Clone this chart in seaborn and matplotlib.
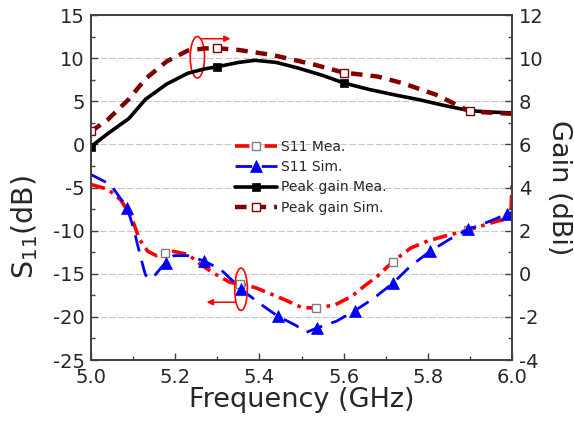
import matplotlib
matplotlib.use("Agg")
import matplotlib.pyplot as plt
from matplotlib.patches import Ellipse
import seaborn as sns

# ---------------- data ----------------
gain_mea_f = [5.0, 5.04, 5.09, 5.13, 5.18, 5.23, 5.27, 5.30, 5.35, 5.39, 5.44, 5.49,
              5.55, 5.60, 5.66, 5.72, 5.78, 5.84, 5.90, 5.95, 6.0]
gain_mea_v = [5.9, 6.5, 7.2, 8.1, 8.8, 9.3, 9.5, 9.6, 9.8, 9.9, 9.8, 9.55,
              9.2, 8.85, 8.55, 8.3, 8.07, 7.8, 7.56, 7.5, 7.46]
gain_mea_mk = [0, 7, 13, 18]

gain_sim_f = [5.0, 5.04, 5.09, 5.13, 5.18, 5.23, 5.27, 5.30, 5.35, 5.43, 5.53, 5.60,
              5.68, 5.74, 5.82, 5.90, 5.95, 6.0]
gain_sim_v = [6.6, 7.15, 8.1, 9.05, 9.85, 10.35, 10.45, 10.46, 10.38, 10.15, 9.7, 9.33,
              9.15, 8.84, 8.3, 7.53, 7.47, 7.42]
gain_sim_mk = [0, 7, 11, 15]

s11_mea_f = [5.0, 5.04, 5.07, 5.095, 5.115, 5.135, 5.155, 5.175, 5.195, 5.23, 5.26, 5.29,
             5.33, 5.355, 5.39, 5.455, 5.50, 5.535, 5.58, 5.62, 5.65, 5.68, 5.717, 5.76,
             5.80, 5.85, 5.896, 5.95, 5.997, 6.0]
s11_mea_v = [-4.65, -5.2, -6.4, -8.3, -11.0, -12.4, -12.9, -12.65, -12.4, -12.75, -13.9, -14.9,
             -16.0, -16.2, -16.6, -17.9, -18.9, -19.0, -18.6, -17.6, -16.4, -15.3, -13.6, -12.0,
             -11.2, -10.5, -9.95, -9.1, -8.5, -4.7]
s11_mea_mk = [7, 13, 17, 22, 26]

s11_sim_f = [5.0, 5.046, 5.078, 5.086, 5.102, 5.117, 5.129, 5.137, 5.153, 5.177, 5.197, 5.229,
             5.268, 5.308, 5.336, 5.356, 5.408, 5.443, 5.487, 5.511, 5.536, 5.583, 5.626, 5.67,
             5.717, 5.757, 5.805, 5.852, 5.896, 5.948, 5.987, 6.0]
s11_sim_v = [-3.5, -4.65, -6.8, -7.35, -9.9, -12.9, -15.1, -15.6, -15.1, -13.7, -12.9, -12.9,
             -13.5, -14.5, -15.8, -16.8, -18.7, -19.9, -21.0, -21.8, -21.3, -20.5, -19.3, -17.9,
             -16.1, -14.2, -12.4, -11.0, -9.86, -8.9, -8.1, -7.9]
s11_sim_mk = [3, 9, 12, 15, 17, 20, 22, 24, 26, 28, 30]

x_ticks = [5.0, 5.2, 5.4, 5.6, 5.8, 6.0]
left_ticks = [-25, -20, -15, -10, -5, 0, 5, 10, 15]
right_ticks = [-4, -2, 0, 2, 4, 6, 8, 10, 12]

# ---------------- style ----------------
sns.set_style("ticks")
plt.rcParams["font.family"] = ["DejaVu Sans"]
plt.rcParams["xtick.direction"] = "in"
plt.rcParams["ytick.direction"] = "in"

fig = plt.figure(figsize=(5.74, 4.33), dpi=100)
ax = fig.add_axes([91 / 574, 1 - 360 / 433, (512 - 91) / 574, (360 - 15) / 433])
ax2 = ax.twinx()

sns.lineplot(x=s11_mea_f, y=s11_mea_v, ax=ax, sort=False, estimator=None,
             color="#ff0000", linestyle=(0, (4, 1.6, 1, 1.6)), linewidth=2.6,
             marker="s", markevery=s11_mea_mk, markersize=6, markerfacecolor="white",
             markeredgecolor="#808080", markeredgewidth=1.0, label="S11 Mea.")
sns.lineplot(x=s11_sim_f, y=s11_sim_v, ax=ax, sort=False, estimator=None,
             color="#0000ff", linestyle=(0, (6, 3.5)), linewidth=2.0,
             marker="^", markevery=s11_sim_mk, markersize=8, markerfacecolor="#0000ff",
             markeredgecolor="#0000ff", markeredgewidth=0.5, label="S11 Sim.")
sns.lineplot(x=gain_mea_f, y=gain_mea_v, ax=ax2, sort=False, estimator=None,
             color="black", linestyle="-", linewidth=2.6,
             marker="s", markevery=gain_mea_mk, markersize=6, markerfacecolor="black",
             markeredgecolor="black", markeredgewidth=0.5, label="Peak gain Mea.")
sns.lineplot(x=gain_sim_f, y=gain_sim_v, ax=ax2, sort=False, estimator=None,
             color="#800000", linestyle=(0, (2.6, 1.8)), linewidth=3.2,
             marker="s", markevery=gain_sim_mk, markersize=6, markerfacecolor="white",
             markeredgecolor="#800000", markeredgewidth=1.0, label="Peak gain Sim.")

# axes limits and ticks
ax.set_xlim(5.0, 6.0)
ax.set_ylim(-25, 15)
ax2.set_ylim(-4, 12)
ax.set_xticks(x_ticks)
ax.set_xticklabels([f"{t:.1f}" for t in x_ticks])
ax.set_yticks(left_ticks)
ax.set_yticklabels([str(t) for t in left_ticks])
ax2.set_yticks(right_ticks)
ax2.set_yticklabels([str(t) for t in right_ticks])
ax.xaxis.set_minor_locator(matplotlib.ticker.MultipleLocator(0.1))
ax.yaxis.set_minor_locator(matplotlib.ticker.MultipleLocator(2.5))
ax2.yaxis.set_minor_locator(matplotlib.ticker.MultipleLocator(1))

ax.tick_params(axis="both", which="major", labelsize=14, length=5, width=1.0,
               color="#404040")
ax.tick_params(axis="y", which="major", pad=4.5)
ax.tick_params(axis="x", which="major", pad=5.5)
ax.tick_params(axis="both", which="minor", length=3, width=1.0, color="#404040")
ax.tick_params(axis="x", top=False, which="both")
ax2.tick_params(axis="y", which="major", labelsize=14, length=5, width=1.0,
                color="#404040", pad=5, right=True)
ax2.tick_params(axis="y", which="minor", length=3, width=1.0, color="#404040", right=True)

for a in (ax, ax2):
    for s in a.spines.values():
        s.set_color("#404040")
        s.set_linewidth(1.2)
        s.set_visible(True)

ax.grid(axis="y", which="major", color="#c8c8c8", linestyle=(0, (6, 2)), linewidth=0.8)
ax.set_axisbelow(True)

ax.set_xlabel("Frequency (GHz)", fontsize=19.5, labelpad=0)
ax.set_ylabel("S$_{11}$(dB)", fontsize=20.5)
ax.yaxis.set_label_coords(-0.12, 0.385)
ax2.set_ylabel("Gain (dBi)", fontsize=19.5, rotation=270, va="bottom", labelpad=2)

# legend
h1, l1 = ax.get_legend_handles_labels()
h2, l2 = ax2.get_legend_handles_labels()
if ax.get_legend() is not None:
    ax.get_legend().remove()
if ax2.get_legend() is not None:
    ax2.get_legend().remove()
ax2.legend(h1 + h2, l1 + l2, loc="upper left", frameon=False, fontsize=10,
           bbox_to_anchor=(228 / 574, 1 - 133 / 433), bbox_transform=fig.transFigure,
           borderpad=0, handlelength=3.0, handletextpad=0.3, labelspacing=0.45,
           numpoints=1)

# annotations (ellipses + arrows)
ax.add_patch(Ellipse((5.2527, 10.1), 0.034, 4.8, fill=False, edgecolor="red", linewidth=1.2,
                     zorder=5))
ax2.annotate("", xy=(5.338, 10.9), xytext=(5.257, 10.9),
             arrowprops=dict(arrowstyle="-|>", color="red", lw=1.1,
                             mutation_scale=9), zorder=6)
ax.add_patch(Ellipse((5.3564, -16.8), 0.030, 4.9, fill=False, edgecolor="red", linewidth=1.2,
                     zorder=5))
ax.annotate("", xy=(5.268, -18.3), xytext=(5.350, -18.3),
            arrowprops=dict(arrowstyle="-|>", color="red", lw=1.1, mutation_scale=9),
            zorder=6)

fig.savefig("out.png", dpi=100)
